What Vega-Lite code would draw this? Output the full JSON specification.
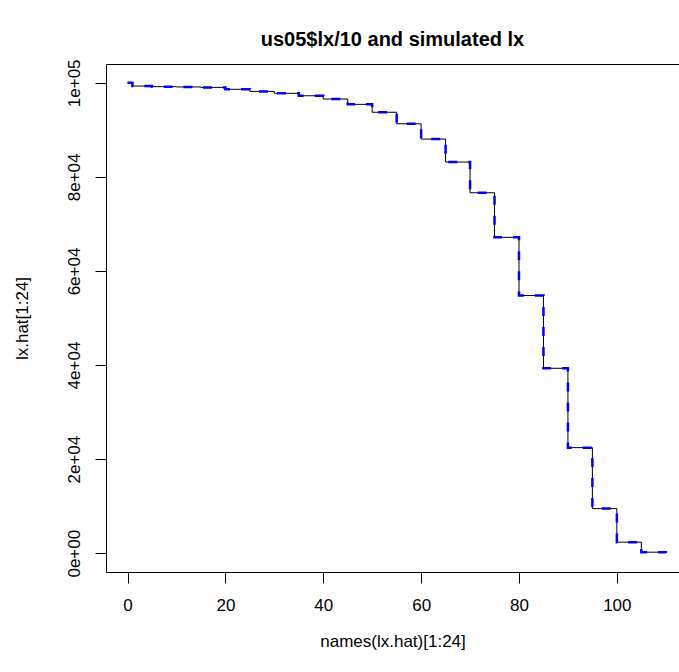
{
  "$schema": "https://vega.github.io/schema/vega-lite/v6.json",
  "autosize": {"type": "none"},
  "padding": {"left": 106, "top": 64, "right": 0, "bottom": 100},
  "width": 573,
  "height": 508,
  "title": {"text": "us05$lx/10 and simulated lx", "font": "Liberation Sans", "fontSize": 20, "fontWeight": "bold", "color": "black", "anchor": "middle", "offset": 9},
  "config": {
    "view": {"stroke": null},
    "axis": {"labelFont": "Liberation Sans", "titleFont": "Liberation Sans", "labelFontSize": 17, "titleFontSize": 17, "titleFontWeight": "normal", "labelColor": "black", "titleColor": "black", "domainColor": "black", "tickColor": "black", "grid": false, "tickSize": 11, "domainWidth": 1, "tickWidth": 1}
  },
  "datasets": {
    "lx": [
      {"age": 0, "lx": 100000, "series": "lx.hat"},
      {"age": 1, "lx": 99313, "series": "lx.hat"},
      {"age": 5, "lx": 99190, "series": "lx.hat"},
      {"age": 10, "lx": 99120, "series": "lx.hat"},
      {"age": 15, "lx": 99030, "series": "lx.hat"},
      {"age": 20, "lx": 98620, "series": "lx.hat"},
      {"age": 25, "lx": 98180, "series": "lx.hat"},
      {"age": 30, "lx": 97760, "series": "lx.hat"},
      {"age": 35, "lx": 97250, "series": "lx.hat"},
      {"age": 40, "lx": 96550, "series": "lx.hat"},
      {"age": 45, "lx": 95420, "series": "lx.hat"},
      {"age": 50, "lx": 93740, "series": "lx.hat"},
      {"age": 55, "lx": 91290, "series": "lx.hat"},
      {"age": 60, "lx": 88040, "series": "lx.hat"},
      {"age": 65, "lx": 83150, "series": "lx.hat"},
      {"age": 70, "lx": 76630, "series": "lx.hat"},
      {"age": 75, "lx": 67150, "series": "lx.hat"},
      {"age": 80, "lx": 54780, "series": "lx.hat"},
      {"age": 85, "lx": 39310, "series": "lx.hat"},
      {"age": 90, "lx": 22440, "series": "lx.hat"},
      {"age": 95, "lx": 9480, "series": "lx.hat"},
      {"age": 100, "lx": 2340, "series": "lx.hat"},
      {"age": 105, "lx": 210, "series": "lx.hat"},
      {"age": 110, "lx": 15, "series": "lx.hat"},
      {"age": 0, "lx": 100000, "series": "us05"},
      {"age": 1, "lx": 99313, "series": "us05"},
      {"age": 5, "lx": 99190, "series": "us05"},
      {"age": 10, "lx": 99120, "series": "us05"},
      {"age": 15, "lx": 99030, "series": "us05"},
      {"age": 20, "lx": 98620, "series": "us05"},
      {"age": 25, "lx": 98180, "series": "us05"},
      {"age": 30, "lx": 97760, "series": "us05"},
      {"age": 35, "lx": 97250, "series": "us05"},
      {"age": 40, "lx": 96550, "series": "us05"},
      {"age": 45, "lx": 95420, "series": "us05"},
      {"age": 50, "lx": 93740, "series": "us05"},
      {"age": 55, "lx": 91290, "series": "us05"},
      {"age": 60, "lx": 88040, "series": "us05"},
      {"age": 65, "lx": 83150, "series": "us05"},
      {"age": 70, "lx": 76630, "series": "us05"},
      {"age": 75, "lx": 67150, "series": "us05"},
      {"age": 80, "lx": 54780, "series": "us05"},
      {"age": 85, "lx": 39310, "series": "us05"},
      {"age": 90, "lx": 22440, "series": "us05"},
      {"age": 95, "lx": 9480, "series": "us05"},
      {"age": 100, "lx": 2340, "series": "us05"},
      {"age": 105, "lx": 210, "series": "us05"},
      {"age": 110, "lx": 15, "series": "us05"}
    ]
  },
  "data": {"name": "lx"},
  "resolve": {"axis": {"x": "independent"}},
  "layer": [
    {
      "transform": [{"filter": "datum.series === 'lx.hat'"}],
      "mark": {"type": "line", "interpolate": "step-after", "color": "black", "strokeWidth": 1},
      "encoding": {
        "x": {"field": "age", "type": "quantitative", "scale": {"domain": [-4.4, 112.7], "nice": false, "zero": false},
              "axis": {"title": "names(lx.hat)[1:24]", "values": [0, 20, 40, 60, 80, 100], "labelPadding": 14, "titlePadding": 20, "labelFlush": false, "labelOverlap": false}},
        "y": {"field": "lx", "type": "quantitative", "scale": {"domain": [-4000, 104000], "nice": false, "zero": false},
              "axis": {"title": "lx.hat[1:24]", "values": [0, 20000, 40000, 60000, 80000, 100000], "labelExpr": "datum.value === 0 ? '0e+00' : datum.value === 100000 ? '1e+05' : (datum.value/10000) + 'e+04'", "labelAngle": -90, "labelAlign": "center", "labelBaseline": "bottom", "labelPadding": 12, "titlePadding": 34, "labelFlush": false, "labelOverlap": false}}
      }
    },
    {
      "transform": [{"filter": "datum.series === 'us05'"}],
      "mark": {"type": "line", "interpolate": "step-after", "color": "blue", "strokeWidth": 2.5, "strokeDash": [9, 11]},
      "encoding": {
        "x": {"field": "age", "type": "quantitative", "axis": {"orient": "top", "title": null, "labels": false, "ticks": false, "domain": true}},
        "y": {"field": "lx", "type": "quantitative"}
      }
    }
  ]
}
